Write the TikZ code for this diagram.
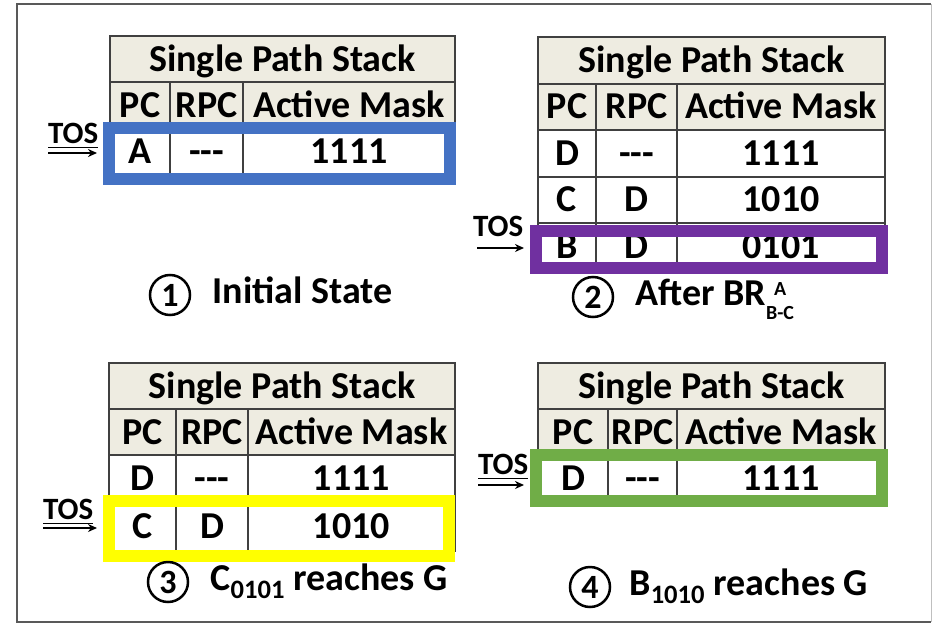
\documentclass[tikz,border=0pt]{standalone}
\usepackage{fontspec}
\setmainfont{Carlito}
\usepackage{amsmath}
\usepackage{tikz}
\usetikzlibrary{positioning,arrows.meta}
\definecolor{headfill}{HTML}{EEECE1}
\definecolor{tabline}{HTML}{404040}
\definecolor{boxblue}{HTML}{4472C4}
\definecolor{boxpurple}{HTML}{7030A0}
\definecolor{boxyellow}{HTML}{FFFF00}
\definecolor{boxgreen}{HTML}{70AD47}
\newcommand{\cellfont}{\bfseries\fontsize{38}{40}\selectfont}
\newcommand{\tosfont}{\bfseries\fontsize{31}{33}\selectfont}
\newcommand{\numfont}{\bfseries\fontsize{34}{36}\selectfont}
\newcommand{\subfont}{\bfseries\fontsize{20}{21}\selectfont}
\newcommand{\nopc}{{-}{-}{-}}
\newcommand{\brlabel}[2]{\sbox0{\subfont #2}%
  \rlap{\raisebox{10pt}{\makebox[\wd0]{\subfont #1}}}\raisebox{-14pt}{\usebox0}}
\tikzset{
  cell/.style args={#1,#2}{
  draw=tabline,
  line width=2pt,
  inner sep=0pt,
  outer sep=0pt,
  minimum width=#1pt,
  minimum height=#2pt,
  text height=24pt,
  text depth=0pt,
  font=\cellfont
  },
  headcell/.style args={#1,#2}{cell={#1,#2},fill=headfill},
  tosbox/.style={draw=#1,line width=12pt,inner sep=0pt},
  toslabel/.style={inner sep=0pt,text depth=0pt,font=\tosfont},
  tosarrow/.style={-{Stealth[length=9pt,width=8pt]},line width=2pt,shorten >=6pt},
  numcirc/.style={circle,draw,line width=2.5pt,minimum size=40pt,inner sep=0pt,font=\numfont},
  caption/.style={inner sep=0pt,text height=24pt,text depth=0pt,font=\cellfont},
  frameline/.style={draw=black!65,line width=2.5pt}
}
\begin{document}
\begin{tikzpicture}[x=1pt,y=-1pt]
  \useasboundingbox (0,0) rectangle (932,624);
  \draw[frameline] (931,4) -- (17,4) -- (17,622) -- (931,622);
  \draw[black!25,line width=1pt] (931,4) -- (931,622);

  % 1: initial state
  \node [headcell={345,46}] (t1title) at (282.5,59) {Single Path Stack};
  \node [headcell={60,46},below right=0pt and 0pt of t1title.south west] (t1pc) {PC};
  \node [headcell={73,46},right=0pt of t1pc] (t1rpc) {RPC};
  \node [headcell={212,46},right=0pt of t1rpc] (t1mask) {Active Mask};
  \node [cell={60,46},below=0pt of t1pc] (t1a) {A};
  \node [cell={73,46},below=0pt of t1rpc] (t1ar) {\nopc};
  \node [cell={212,46},below=0pt of t1mask] (t1am) {1111};
  \node [tosbox=boxblue,minimum width=341pt,minimum height=51pt] (box1) at (279.5,153.5) {};
  \coordinate (tos1a) at (48,153);
  \node [toslabel,above right=9pt and 0pt of tos1a] (tos1) {\underline{TOS}};
  \draw [tosarrow] (tos1a) -- (box1.west |- tos1a);
  \node [numcirc] (c1) at (170,295) {1};
  \node [caption,right=21pt of c1,yshift=4pt] (cap1) {Initial State};

  % 2: after the branch
  \node [headcell={347,46.5}] (t2title) at (711.5,60.25) {Single Path Stack};
  \node [headcell={58,46.5},below right=0pt and 0pt of t2title.south west] (t2pc) {PC};
  \node [headcell={81,46.5},right=0pt of t2pc] (t2rpc) {RPC};
  \node [headcell={208,46.5},right=0pt of t2rpc] (t2mask) {Active Mask};
  \node [cell={58,46.5},below=0pt of t2pc] (t2d) {D};
  \node [cell={81,46.5},below=0pt of t2rpc] (t2dr) {\nopc};
  \node [cell={208,46.5},below=0pt of t2mask] (t2dm) {1111};
  \node [cell={58,46.5},below=0pt of t2d] (t2c) {C};
  \node [cell={81,46.5},below=0pt of t2dr] (t2cr) {D};
  \node [cell={208,46.5},below=0pt of t2dm] (t2cm) {1010};
  \node [cell={58,46.5},below=0pt of t2c] (t2b) {B};
  \node [cell={81,46.5},below=0pt of t2cr] (t2br) {D};
  \node [cell={208,46.5},below=0pt of t2cm] (t2bm) {0101};
  \node [tosbox=boxpurple,minimum width=346pt,minimum height=37pt] (box2) at (709,249.5) {};
  \coordinate (tos2a) at (477,248);
  \node [toslabel,above right=11pt and -4pt of tos2a] (tos2) {TOS};
  \draw [tosarrow] (tos2a) -- (box2.west |- tos2a);
  \node [numcirc] (c2) at (593,297) {2};
  \node [caption,right=21pt of c2,yshift=4pt] (cap2) {After BR\brlabel{A}{B-C}};

  % 3: C reaches G
  \node [headcell={346,46}] (t3title) at (282,386) {Single Path Stack};
  \node [headcell={67,46},below right=0pt and 0pt of t3title.south west] (t3pc) {PC};
  \node [headcell={72,46},right=0pt of t3pc] (t3rpc) {RPC};
  \node [headcell={207,46},right=0pt of t3rpc] (t3mask) {Active Mask};
  \node [cell={67,46},below=0pt of t3pc] (t3d) {D};
  \node [cell={72,46},below=0pt of t3rpc] (t3dr) {\nopc};
  \node [cell={207,46},below=0pt of t3mask] (t3dm) {1111};
  \node [cell={67,50},below=0pt of t3d] (t3c) {C};
  \node [cell={72,50},below=0pt of t3dr] (t3cr) {D};
  \node [cell={207,50},below=0pt of t3dm] (t3cm) {1010};
  \node [tosbox=boxyellow,minimum width=340pt,minimum height=55pt] (box3) at (279,528.5) {};
  \coordinate (tos3a) at (43,528);
  \node [toslabel,above right=8pt and 0pt of tos3a] (tos3) {\underline{TOS}};
  \draw [tosarrow] (tos3a) -- (box3.west |- tos3a);
  \node [numcirc] (c3) at (168,582) {3};
  \node [caption,right=21pt of c3,yshift=4pt] (cap3) {C$_{\text{0101}}$ reaches G};

  % 4: B reaches G
  \node [headcell={347,46}] (t4title) at (711.5,386) {Single Path Stack};
  \node [headcell={70,46},below right=0pt and 0pt of t4title.south west] (t4pc) {PC};
  \node [headcell={69,46},right=0pt of t4pc] (t4rpc) {RPC};
  \node [headcell={208,46},right=0pt of t4rpc] (t4mask) {Active Mask};
  \node [cell={70,46},below=0pt of t4pc] (t4d) {D};
  \node [cell={69,46},below=0pt of t4rpc] (t4dr) {\nopc};
  \node [cell={208,46},below=0pt of t4mask] (t4dm) {1111};
  \node [tosbox=boxgreen,minimum width=346pt,minimum height=46pt] (box4) at (709,478) {};
  \coordinate (tos4a) at (478,485);
  \node [toslabel,above right=10pt and 0pt of tos4a] (tos4) {\underline{TOS}};
  \draw [tosarrow] (tos4a) -- (box4.west |- tos4a);
  \node [numcirc] (c4) at (590,587) {4};
  \node [caption,right=18pt of c4,yshift=4pt] (cap4) {B$_{\text{1010}}$ reaches G};
\end{tikzpicture}
\end{document}
